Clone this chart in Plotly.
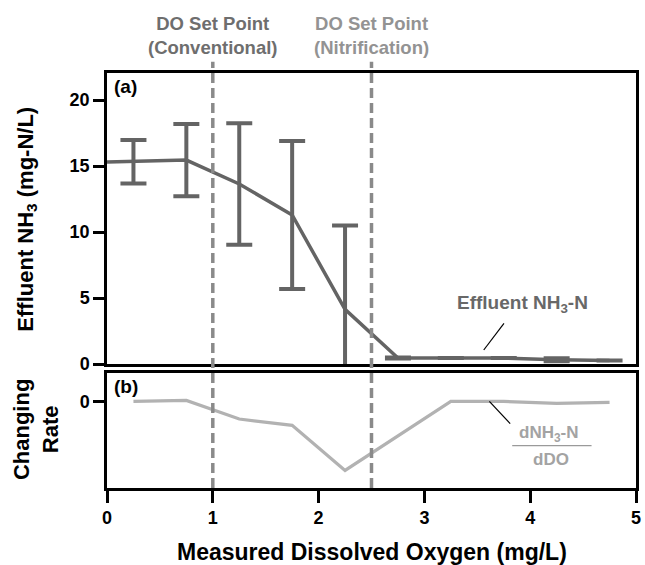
import plotly.graph_objects as go

# ---------------- data ----------------
do_line = [0.0, 0.25, 0.75, 1.25, 1.75, 2.25, 2.75, 3.25, 3.75, 4.25, 4.75]
nh3_line = [15.3, 15.33, 15.45, 13.64, 11.29, 4.14, 0.45, 0.45, 0.45, 0.32, 0.26]

do_pts = [0.25, 0.75, 1.25, 1.75, 2.25, 2.75, 3.25, 3.75, 4.25, 4.75]
nh3_mean = [15.33, 15.45, 13.64, 11.29, 4.14, 0.45, 0.45, 0.45, 0.32, 0.26]
nh3_err = [1.65, 2.73, 4.6, 5.6, 6.36, 0.04, None, None, 0.12, None]

rate = [0.0, 0.2, -3.64, -4.97, -14.29, -7.2, 0.0, 0.0, -0.41, -0.2]

setpoints = [1.0, 2.5]
setpoint_labels = ["DO Set Point<br>(Conventional)", "DO Set Point<br>(Nitrification)"]
setpoint_colors = ["#6e6e6e", "#939393"]

a_ticks = [0, 5, 10, 15, 20]
x_ticks = [0, 1, 2, 3, 4, 5]

FONT = "Liberation Sans, Arial, Helvetica, sans-serif"
DARK = "#646464"
LIGHT = "#b2b2b2"

fig = go.Figure()

fig.add_trace(go.Scatter(x=do_line, y=nh3_line, mode="lines",
                         line=dict(color=DARK, width=3.5), xaxis="x", yaxis="y",
                         showlegend=False, hoverinfo="skip"))
fig.add_trace(go.Scatter(x=do_pts, y=nh3_mean, mode="markers",
                         marker=dict(size=1, color=DARK, opacity=0),
                         error_y=dict(type="data", array=nh3_err, symmetric=True,
                                      color=DARK, thickness=4, width=13),
                         xaxis="x", yaxis="y", showlegend=False))
fig.add_trace(go.Scatter(x=do_pts, y=rate, mode="lines",
                         line=dict(color=LIGHT, width=3.2), xaxis="x2", yaxis="y2",
                         showlegend=False))

axis_common = dict(showline=True, linecolor="black", linewidth=2.5, mirror=True,
                   showgrid=False, zeroline=False)
tick_common = dict(ticks="outside", tickwidth=2.5, tickcolor="black",
                   tickfont=dict(size=18, family=FONT, color="black", weight="bold"))
Y_SUFFIX = "\u00a0\u00a0\u200b"

fig.update_layout(
    width=645, height=565,
    margin=dict(l=107, r=4, t=73, b=77),
    paper_bgcolor="white", plot_bgcolor="white",
    font=dict(family=FONT, size=17, color="black", weight="bold"),
    xaxis=dict(domain=[0, 1], anchor="y", range=[0, 5], showticklabels=False,
               ticks="", **axis_common),
    yaxis=dict(domain=[0.2988, 1], anchor="x", range=[0, 22.05], tickvals=a_ticks,
               ticklen=11, ticksuffix=Y_SUFFIX, **tick_common, **axis_common),
    xaxis2=dict(domain=[0, 1], anchor="y2", range=[0, 5], tickvals=x_ticks,
                ticklen=12, **tick_common, **axis_common),
    yaxis2=dict(domain=[0, 0.2771], anchor="x2", range=[-17.93, 5.88], tickvals=[0],
                ticklen=11, ticksuffix=Y_SUFFIX, **tick_common, **axis_common),
)

shapes = []
annotations = []
for xv, lab, col in zip(setpoints, setpoint_labels, setpoint_colors):
    shapes.append(dict(type="line", xref="x", yref="paper", x0=xv, x1=xv,
                       y0=0, y1=1.027, line=dict(color="#8a8a8a", width=3.5,
                                                 dash="10px,5px")))
    annotations.append(dict(x=xv, y=1.0904, xref="x", yref="paper", text=lab,
                            showarrow=False, xanchor="center", yanchor="middle",
                            font=dict(size=18.5, color=col)))

# leader lines for series labels
shapes.append(dict(type="line", xref="x", yref="y", x0=3.752, y0=3.08, x1=3.561, y1=1.06,
                   line=dict(color="black", width=1.2)))
shapes.append(dict(type="line", xref="x2", yref="y2", x0=3.614, y0=0, x1=3.811, y1=-4.6,
                   line=dict(color="black", width=1.2)))
# fraction bar
shapes.append(dict(type="line", xref="x2", yref="y2", x0=3.83, y0=-9.17, x1=4.58, y1=-9.17,
                   line=dict(color="#9a9a9a", width=1.2)))

annotations += [
    dict(x=0.01, y=0.995, xref="x domain", yref="y domain", text="(a)", showarrow=False,
         xanchor="left", yanchor="top", font=dict(size=19)),
    dict(x=0.01, y=0.99, xref="x2 domain", yref="y2 domain", text="(b)", showarrow=False,
         xanchor="left", yanchor="top", font=dict(size=19)),
    dict(x=3.93, y=4.55, xref="x", yref="y", text="Effluent NH<sub>3</sub>-N",
         showarrow=False, font=dict(size=19, color="#686868")),
    dict(x=4.176, y=-6.69, xref="x2", yref="y2", text="dNH<sub>3</sub>-N",
         showarrow=False, font=dict(size=17, color="#a3a3a3")),
    dict(x=4.2, y=-11.93, xref="x2", yref="y2", text="dDO",
         showarrow=False, font=dict(size=17, color="#a3a3a3")),
    dict(x=0.5, y=-0.154, xref="paper", yref="paper",
         text="Measured Dissolved Oxygen (mg/L)", showarrow=False,
         xanchor="center", yanchor="middle", font=dict(size=23)),
    dict(x=-0.152, y=0.648, xref="paper", yref="paper",
         text="Effluent NH<sub>3</sub> (mg-N/L)", showarrow=False, textangle=-90,
         xanchor="center", yanchor="middle", font=dict(size=22)),
    dict(x=-0.134, y=0.1398, xref="paper", yref="paper",
         text="Changing<br>Rate", showarrow=False, textangle=-90,
         xanchor="center", yanchor="middle", font=dict(size=22)),
]

fig.update_layout(shapes=shapes, annotations=annotations)
fig.write_html("out.html")
